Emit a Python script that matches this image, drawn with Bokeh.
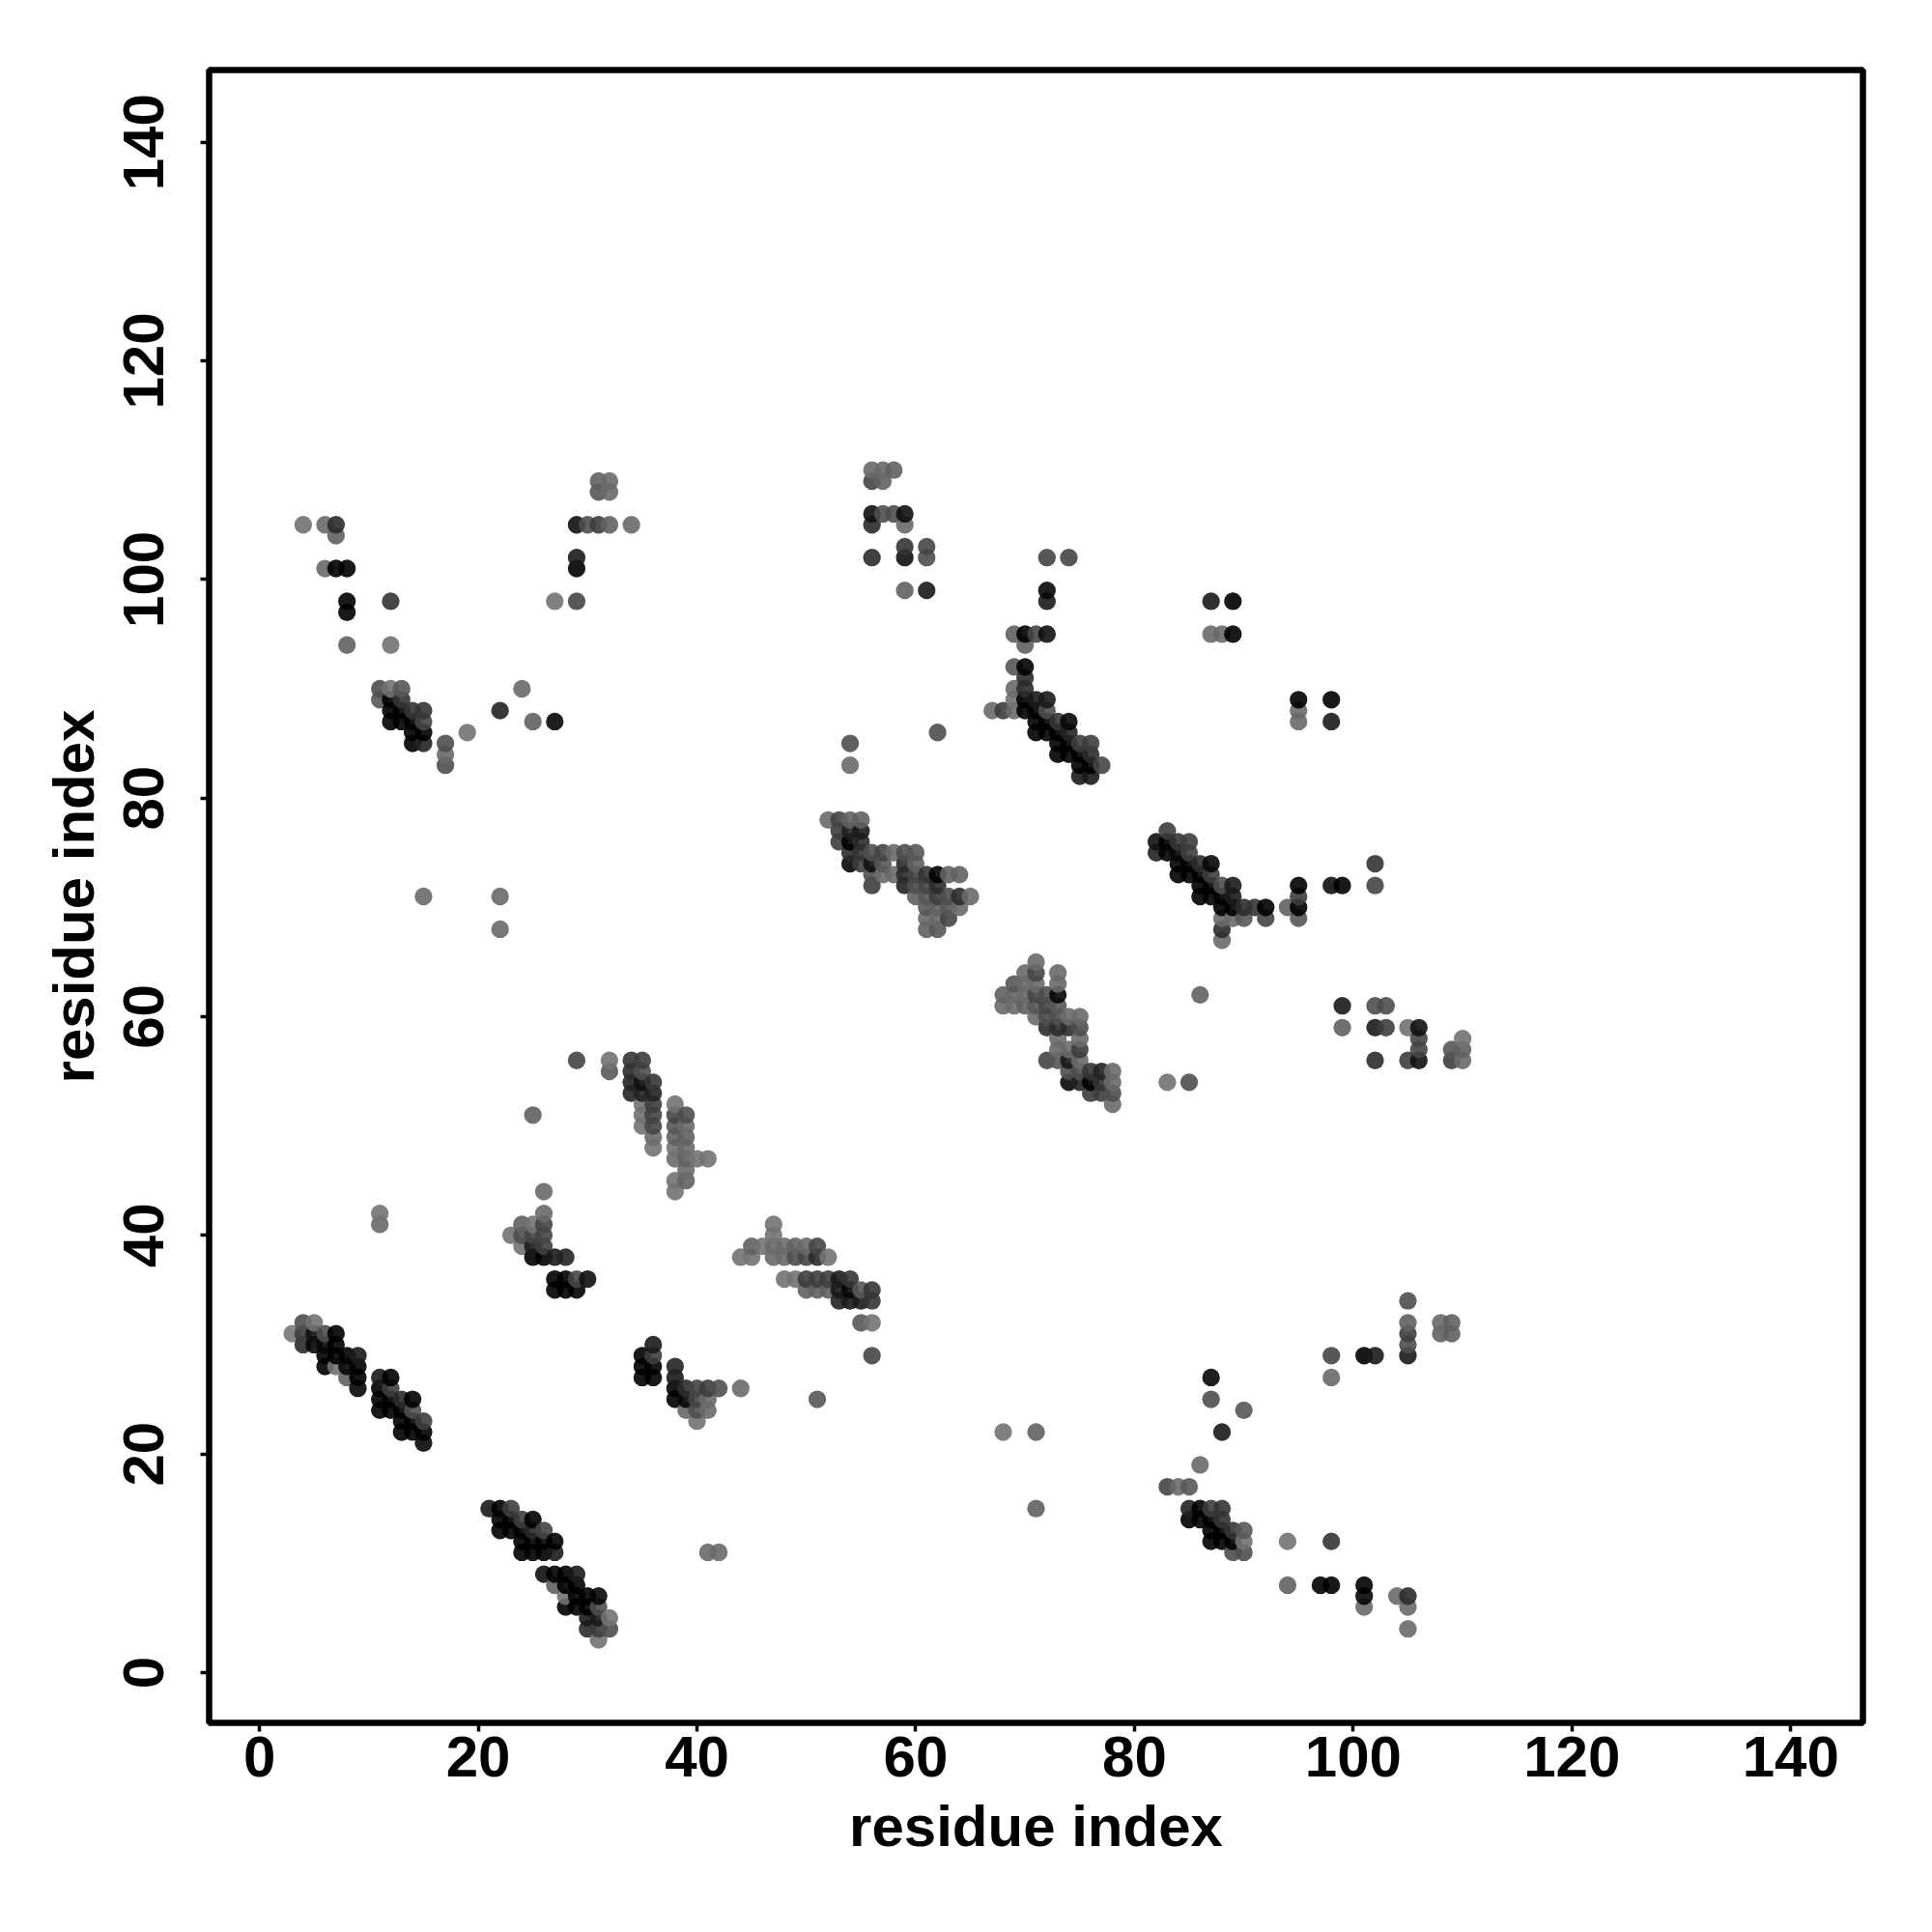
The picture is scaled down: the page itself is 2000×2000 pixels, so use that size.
from bokeh.plotting import figure
from bokeh.embed import file_html
from bokeh.resources import INLINE
from bokeh.models import FixedTicker, ColumnDataSource

tick_values = [0, 20, 40, 60, 80, 100, 120, 140]
x_title = "residue index"
y_title = "residue index"

# each entry: residue i, residue j, grey level of the dot (0 black .. 255 white)
group_a = [(3,31,0x85),(4,32,0x60),(4,31,0x50),(4,30,0x40),(5,32,0x80),(5,31,0x28),(5,30,0x20),(6,31,0x60),(6,30,0x20),(6,29,0x08),(6,28,0x08),
 (7,31,0x10),(7,30,0x08),(7,29,0x08),(7,28,0x80),(8,29,0x08),(8,28,0x20),(8,27,0x70),(9,29,0x30),(9,28,0x10),(9,27,0x10),(9,26,0x20),
 (11,27,0x30),(11,26,0x08),(11,25,0x08),(11,24,0x08),(12,27,0x05),(12,26,0x50),(12,25,0x08),(12,24,0x08),(13,25,0x40),(13,24,0x18),(13,23,0x08),(13,22,0x08),
 (14,25,0x05),(14,24,0x60),(14,23,0x08),(14,22,0x08),(15,23,0x50),(15,22,0x08),(15,21,0x20),(11,42,0x80),(11,41,0x78)]
group_b = [(21,15,0x30),(22,15,0x08),(22,14,0x08),(22,13,0x08),(23,15,0x50),(23,14,0x10),(23,13,0x08),(24,14,0x50),(24,13,0x10),(24,12,0x08),(24,11,0x08),
 (25,14,0x05),(25,13,0x40),(25,12,0x10),(25,11,0x08),(26,13,0x55),(26,12,0x18),(26,11,0x08),(27,12,0x05),(27,11,0x30),
 (26,9,0x28),(27,9,0x10),(27,8,0x70),(28,9,0x10),(28,8,0x18),(28,7,0x80),(28,6,0x08),(29,9,0x30),(29,8,0x08),(29,7,0x08),(29,6,0x08),
 (30,7,0x08),(30,6,0x08),(30,5,0x30),(30,4,0x40),(31,7,0x20),(31,6,0x60),(31,5,0x30),(31,4,0x50),(31,3,0x80),(32,5,0x80),(32,4,0x60),(41,11,0x78),(42,11,0x78)]
group_c = [(23,40,0x80),(24,41,0x70),(24,40,0x60),(24,39,0x80),(25,41,0x80),(25,40,0x58),(25,39,0x30),(25,38,0x10),(26,44,0x78),(26,42,0x78),(26,41,0x58),(26,40,0x58),(26,39,0x50),(26,38,0x08),
 (27,38,0x30),(28,38,0x38),(27,36,0x05),(27,35,0x05),(28,36,0x05),(28,35,0x05),(29,36,0x58),(29,35,0x05),(30,36,0x28),(25,51,0x70),(29,56,0x58),(32,56,0x80),(32,55,0x6a),
 (34,56,0x48),(35,56,0x50),(34,55,0x40),(35,55,0x60),(34,54,0x38),(35,54,0x28),(36,54,0x48),(34,53,0x38),(35,53,0x38),(36,53,0x38),
 (35,52,0x80),(35,51,0x80),(35,50,0x80),(36,52,0x50),(36,51,0x55),(36,50,0x58),(36,49,0x78),(36,48,0x80),
 (38,52,0x80),(39,51,0x60),(38,51,0x58),(38,50,0x68),(38,49,0x70),(38,48,0x80),(38,47,0x78),(39,50,0x78),(39,49,0x70),(39,48,0x78),(39,47,0x70),(40,47,0x80),(41,47,0x80),(39,46,0x78),(39,45,0x70),(38,45,0x80),(38,44,0x80)]
group_d = [(47,41,0x80),(47,40,0x80),(47,39,0x78),(47,38,0x78),(46,39,0x80),(45,39,0x70),(45,38,0x80),(44,38,0x80),(48,39,0x78),(48,38,0x78),(49,39,0x70),(49,38,0x60),(50,39,0x78),(50,38,0x58),(51,39,0x58),(51,38,0x40),(52,38,0x80),
 (48,36,0x80),(49,36,0x80),(50,36,0x50),(50,35,0x70),(51,36,0x50),(51,35,0x70),(52,36,0x50),(52,35,0x70),(53,36,0x30),(53,35,0x30),(53,34,0x38),(54,36,0x48),(54,35,0x20),(54,34,0x30),(55,35,0x68),(55,34,0x30),(56,35,0x48),(56,34,0x48),
 (55,32,0x68),(56,32,0x80),(56,29,0x58),(36,30,0x30),(35,29,0x05),(36,29,0x50),(35,28,0x05),(36,28,0x05),(35,27,0x05),(36,27,0x05),
 (38,28,0x38),(38,27,0x30),(38,26,0x05),(38,25,0x10),(39,26,0x40),(39,25,0x20),(40,26,0x58),(41,26,0x50),(42,26,0x60),(40,25,0x58),(41,25,0x78),(39,24,0x78),(40,24,0x60),(41,24,0x78),(40,23,0x80),(44,26,0x78),(51,25,0x68)]
group_e = [(52,78,0x78),(53,78,0x58),(54,78,0x70),(55,78,0x70),(53,77,0x50),(54,77,0x38),(55,77,0x30),(53,76,0x50),(54,76,0x08),(55,76,0x40),(54,75,0x40),(55,75,0x48),(54,74,0x20),(55,74,0x50),
 (56,75,0x60),(57,75,0x58),(58,75,0x78),(59,75,0x60),(60,75,0x68),(56,74,0x28),(56,73,0x60),(56,72,0x50),(57,74,0x68),(57,73,0x78),(58,73,0x78),(59,74,0x40),(59,73,0x40),(59,72,0x38),(60,74,0x70),(60,73,0x58),(60,72,0x60),(60,71,0x70),
 (61,73,0x48),(61,72,0x58),(62,73,0x18),(62,72,0x40),(61,71,0x68),(61,70,0x68),(62,71,0x50),(62,70,0x70),(63,73,0x70),(64,73,0x70),(63,71,0x60),(64,71,0x40),(65,71,0x78),(64,70,0x78),(63,70,0x68),(63,69,0x58),(61,69,0x78),(62,69,0x78),(61,68,0x70),(62,68,0x68),
 (54,85,0x60),(54,83,0x78),(62,86,0x60)]
group_f = [(69,95,0x70),(70,95,0x05),(71,95,0x58),(72,95,0x28),(70,94,0x70),(69,92,0x68),(70,92,0x10),(70,91,0x40),(69,90,0x78),(70,90,0x40),(69,89,0x80),(70,89,0x10),(69,88,0x78),(70,88,0x08),(68,88,0x50),(67,88,0x78),
 (71,89,0x30),(72,89,0x30),(71,88,0x08),(72,88,0x60),(71,87,0x05),(71,86,0x05),(72,87,0x05),(72,86,0x05),(73,87,0x48),(74,87,0x20),(73,86,0x05),(74,86,0x38),(73,85,0x05),(73,84,0x05),(74,85,0x05),(74,84,0x08),(75,85,0x50),(76,85,0x50),(75,84,0x05),(76,84,0x40),(75,83,0x18),(76,83,0x10),(77,83,0x58),(75,82,0x30),(76,82,0x30),
 (72,102,0x58),(74,102,0x58),(72,99,0x20),(72,98,0x30)]
group_g = [(83,77,0x50),(82,76,0x28),(82,75,0x38),(83,76,0x10),(83,75,0x18),(84,76,0x48),(85,76,0x50),(84,75,0x20),(85,75,0x50),(84,74,0x05),(85,74,0x10),(84,73,0x05),(85,73,0x05),(86,74,0x40),(87,74,0x20),(86,73,0x05),(87,73,0x50),(86,72,0x05),(86,71,0x05),(87,72,0x05),(87,71,0x05),(88,72,0x60),(89,72,0x30),(88,71,0x05),(89,71,0x30),(88,70,0x05),(89,70,0x05),(90,70,0x40),(91,70,0x48),(92,70,0x10),(88,69,0x78),(89,69,0x78),(90,69,0x68),(92,69,0x58),(88,68,0x40),(88,67,0x78),(94,70,0x70),(95,72,0x18),(95,71,0x50),(95,70,0x05),(95,69,0x68),
 (98,72,0x28),(99,72,0x18),(102,74,0x48),(102,72,0x58),(95,89,0x10),(95,88,0x78),(95,87,0x78),(98,89,0x18),(98,87,0x30),(87,98,0x30),(89,98,0x10),(87,95,0x78),(88,95,0x78),(89,95,0x05)]
group_h = [(71,65,0x78),(71,64,0x58),(70,64,0x78),(69,63,0x68),(68,62,0x70),(68,61,0x78),(69,62,0x78),(69,61,0x78),(70,63,0x78),(70,62,0x78),(70,61,0x70),(71,63,0x78),(71,62,0x58),(71,61,0x68),(72,62,0x60),(72,61,0x58),(71,60,0x78),(72,60,0x60),
 (73,64,0x78),(73,63,0x78),(73,62,0x20),(73,61,0x68),(73,60,0x60),(74,60,0x78),(75,60,0x78),(72,59,0x40),(73,59,0x40),(74,59,0x40),(75,59,0x60),(75,58,0x78),(75,57,0x50),(75,56,0x78),(73,58,0x78),(73,57,0x78),(74,57,0x78),(72,56,0x58),(73,56,0x68),(74,56,0x30),(74,55,0x60),(75,55,0x60),(74,54,0x20),(75,54,0x38),(76,55,0x48),(76,54,0x08),(77,55,0x38),(77,54,0x48),(76,53,0x50),(77,53,0x50),(78,55,0x78),(78,54,0x78),(78,53,0x60),(78,52,0x78),
 (86,62,0x70),(83,54,0x80),(85,54,0x60),(99,61,0x30),(99,59,0x70),(102,61,0x60),(103,61,0x60),(102,59,0x30),(103,59,0x50),(105,59,0x80),(106,59,0x28),(106,58,0x58),(106,57,0x58),(105,56,0x50),(106,56,0x28),(102,56,0x40),(110,58,0x80),(109,57,0x68),(110,57,0x70),(109,56,0x50),(110,56,0x78)]
group_i = [(4,105,0x80),(6,105,0x78),(7,105,0x40),(7,104,0x70),(6,101,0x78),(7,101,0x18),(8,101,0x10),(8,98,0x10),(8,97,0x18),(12,98,0x48),(8,94,0x70),(12,94,0x80),
 (11,90,0x60),(12,90,0x80),(13,90,0x68),(11,89,0x68),(12,89,0x05),(13,89,0x48),(12,88,0x05),(13,88,0x05),(14,88,0x48),(15,88,0x48),(12,87,0x05),(13,87,0x05),(14,87,0x05),(15,87,0x58),(14,86,0x10),(15,86,0x05),(14,85,0x10),(15,85,0x38),(17,85,0x60),(17,84,0x78),(17,83,0x60),(19,86,0x80),(22,88,0x38),(24,90,0x78),(25,87,0x70),(27,87,0x20),
 (15,71,0x78),(22,71,0x78),(22,68,0x78),(27,98,0x80),(29,98,0x58),(29,105,0x28),(30,105,0x60),(31,105,0x50),(32,105,0x70),(34,105,0x78),(29,102,0x30),(29,101,0x10),(31,109,0x70),(32,109,0x78),(31,108,0x68),(32,108,0x78)]
group_j = [(56,110,0x78),(57,110,0x78),(58,110,0x70),(56,109,0x58),(57,109,0x70),(56,106,0x28),(57,106,0x60),(58,106,0x60),(59,106,0x28),(56,105,0x40),(59,105,0x78),(59,103,0x48),(59,102,0x28),(61,103,0x58),(61,102,0x60),(56,102,0x40),(59,99,0x70),(61,99,0x30)]
group_k = [(68,22,0x80),(71,22,0x70),(71,15,0x70),(87,27,0x20),(87,25,0x60),(90,24,0x68),(88,22,0x30),(86,19,0x78),(83,17,0x58),(84,17,0x78),(85,17,0x68),
 (85,15,0x38),(86,15,0x05),(87,15,0x50),(88,15,0x48),(85,14,0x10),(86,14,0x10),(87,14,0x18),(88,14,0x48),(87,13,0x05),(88,13,0x10),(89,13,0x48),(90,13,0x68),(87,12,0x05),(88,12,0x05),(89,12,0x05),(90,12,0x80),(89,11,0x60),(90,11,0x60),
 (94,12,0x80),(98,12,0x48),(94,8,0x70),(97,8,0x18),(98,8,0x18),(101,8,0x10),(101,7,0x20),(101,6,0x78),(104,7,0x78),(105,7,0x40),(105,6,0x78),(105,4,0x78),
 (98,29,0x58),(98,27,0x78),(101,29,0x18),(102,29,0x30),(105,34,0x60),(105,32,0x70),(105,31,0x50),(105,30,0x60),(105,29,0x30),(108,32,0x78),(108,31,0x70),(109,32,0x70),(109,31,0x70)]

points = sorted(group_a + group_b + group_c + group_d + group_e + group_f + group_g + group_h + group_i + group_j + group_k, key=lambda t: (t[0], t[1]))
ALPHA = 0.9
def colour(g):
    c = max(0, int(round((g - (1 - ALPHA) * 255) / ALPHA)))
    return "#%02x%02x%02x" % (c, c, c)
src = ColumnDataSource(dict(x=[t[0] for t in points], y=[t[1] for t in points], c=[colour(t[2]) for t in points]))

p = figure(frame_width=1712, frame_height=1711, output_backend="svg", toolbar_location=None,
           x_range=(-4.6, 146.6), y_range=(-4.6, 146.6),
           min_border_left=216, min_border_top=72, min_border_right=48, min_border_bottom=190,
           background_fill_color="white", border_fill_color="white")
p.scatter("x", "y", source=src, size=18.3, marker="circle", fill_color="c", fill_alpha=ALPHA, line_color=None)
p.grid.visible = False
p.outline_line_color = "black"
p.outline_line_width = 6.5
for ax, title in ((p.xaxis[0], x_title), (p.yaxis[0], y_title)):
    ax.ticker = FixedTicker(ticks=tick_values)
    ax.axis_line_color = None
    ax.major_tick_line_color = "black"
    ax.major_tick_line_width = 3.5
    ax.major_tick_in = 0
    ax.major_tick_out = 9
    ax.minor_tick_line_color = None
    ax.major_label_text_font = "Liberation Sans"
    ax.major_label_text_font_style = "bold"
    ax.major_label_text_font_size = "60px"
    ax.major_label_text_color = "black"
    ax.axis_label = title
    ax.axis_label_text_font = "Liberation Sans"
    ax.axis_label_text_font_style = "bold"
    ax.axis_label_text_font_size = "60px"
    ax.axis_label_text_color = "black"
p.xaxis[0].major_label_standoff = 5
p.xaxis[0].axis_label_standoff = 15
p.yaxis[0].major_label_standoff = 38
p.yaxis[0].axis_label_standoff = 16
p.yaxis[0].major_label_orientation = "vertical"

open("out.html", "w").write(file_html(p, INLINE))
